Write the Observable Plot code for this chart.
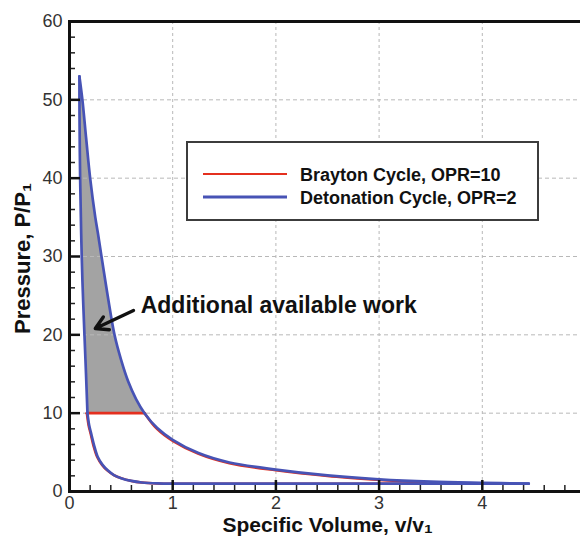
<!DOCTYPE html>
<html><head><meta charset="utf-8">
<script src="https://cdn.jsdelivr.net/npm/d3@7"></script>
<script src="https://cdn.jsdelivr.net/npm/@observablehq/plot@0.6"></script>
<style>
html,body{margin:0;padding:0;background:#fff;overflow:hidden;}
#chart{position:relative;width:580px;height:536px;overflow:hidden;}
#chart svg{overflow:hidden;}
</style></head><body><div id="chart"></div>
<script>
// ---- ticks ----
const xTicks = [0, 1, 2, 3, 4, 5];
const yTicks = [0, 10, 20, 30, 40, 50, 60];
const xGrid = [1, 2, 3, 4];
const yGrid = [10, 20, 30, 40, 50];
const xMinor = [0.2, 0.4, 0.6, 0.8, 1.2, 1.4, 1.6, 1.8, 2.2, 2.4, 2.6, 2.8, 3.2, 3.4, 3.6, 3.8, 4.2, 4.4, 4.6, 4.8];
const yMinor = [2, 4, 6, 8, 12, 14, 16, 18, 22, 24, 26, 28, 32, 34, 36, 38, 42, 44, 46, 48, 52, 54, 56, 58];

// ---- series labels ----
const seriesNames = ["Brayton Cycle, OPR=10", "Detonation Cycle, OPR=2"];
const seriesColors = ["#e4301f", "#4753b5"];

// ---- Brayton cycle (red) ----
const braytonLowerV = [1.0, 0.85, 0.7, 0.6, 0.5, 0.43, 0.365, 0.315, 0.268, 0.233, 0.204, 0.184, 0.168];
const braytonLowerP = [1.0, 1.03, 1.15, 1.35, 1.7, 2.1, 2.7, 3.4, 4.4, 5.8, 7.4, 8.5, 10];
const braytonTopV = [0.168, 0.727];
const braytonTopP = [10, 10];
const braytonExpV = [0.727, 0.85, 1.0, 1.25, 1.55, 2.0, 2.5, 3.0, 3.45];
const braytonExpP = [10, 7.95, 6.45, 4.8, 3.6, 2.7, 1.98, 1.48, 1.12];
const braytonBaseV = [3.45, 1.0];
const braytonBaseP = [1.0, 1.0];

// ---- Detonation cycle (blue) ----
const detLowerV = [1.0, 0.85, 0.7, 0.6, 0.5, 0.43, 0.37, 0.32, 0.274, 0.24, 0.21, 0.19, 0.174];
const detLowerP = [1.0, 1.03, 1.15, 1.35, 1.7, 2.1, 2.7, 3.4, 4.4, 5.8, 7.4, 8.5, 10];
const detLeftV = [0.174, 0.16, 0.145, 0.125, 0.113, 0.103, 0.097, 0.096];
const detLeftP = [10, 15, 20, 27, 33, 40, 48, 53];
const detExpV = [0.096, 0.125, 0.162, 0.2, 0.25, 0.275, 0.31, 0.37, 0.436, 0.5, 0.57, 0.645, 0.727, 0.85, 1.0, 1.25, 1.55, 2.0, 2.5, 3.0, 3.5, 4.0, 4.45];
const detExpP = [53, 50, 45, 40, 35, 33, 30, 25, 20, 16.8, 14.0, 11.8, 10, 8.1, 6.6, 4.9, 3.7, 2.8, 2.05, 1.55, 1.25, 1.1, 1.0];
const detBaseV = [4.45, 1.0];
const detBaseP = [1.0, 1.0];

// ---- annotation ----
const noteText = ["Additional available work"];
const noteV = [0.69];
const noteP = [23.7];
const arrowFrom = [0.62, 23.1];
const arrowTo = [0.25, 20.8];

const pts = (V, P) => V.map((v, i) => ({v, P: P[i]}));

// shaded region: detonation left line up, then expansion down to P=10
const detExpAbove = pts(detExpV, detExpP).filter(d => d.P >= 10);
const shade = [...pts(detLeftV, detLeftP), ...detExpAbove.slice(1)];

const W = 580, H = 536, ML = 69, MR = -5, MT = 21, MB = 45;
const frameW = W - ML - MR, frameH = H - MT - MB;
const red = seriesColors[0], blue = seriesColors[1];
const FONT = "'Liberation Sans', Arial, Helvetica, sans-serif";

const lineOpts = (color, w, curve) => ({x: "v", y: "P", stroke: color, strokeWidth: w, curve, strokeLinecap: "round", strokeLinejoin: "round"});

const plot = Plot.plot({
  width: W, height: H,
  marginLeft: ML, marginRight: MR, marginTop: MT, marginBottom: MB,
  style: {fontFamily: FONT, fontSize: "18px", background: "#fff", overflow: "hidden"},
  x: {domain: [0, 5]},
  y: {domain: [0, 60]},
  marks: [
    Plot.line(shade, {x: "v", y: "P", fill: "#a3a3a3", stroke: "none", curve: "catmull-rom"}),
    Plot.ruleX(xGrid, {x: d => d, stroke: "#b8b8b8", strokeWidth: 1, strokeDasharray: "3,3"}),
    Plot.ruleY(yGrid, {y: d => d, stroke: "#b8b8b8", strokeWidth: 1, strokeDasharray: "4,3"}),
    // Brayton (red)
    Plot.line(pts(braytonBaseV, braytonBaseP), lineOpts(red, 2.5, "linear")),
    Plot.line(pts(braytonLowerV, braytonLowerP), lineOpts(red, 2.5, "catmull-rom")),
    Plot.line(pts(braytonTopV, braytonTopP), lineOpts(red, 2.8, "linear")),
    Plot.line(pts(braytonExpV, braytonExpP), lineOpts(red, 2.5, "catmull-rom")),
    // Detonation (blue)
    Plot.line(pts(detBaseV, detBaseP), lineOpts(blue, 2.7, "linear")),
    Plot.line(pts(detLowerV, detLowerP), lineOpts(blue, 2.7, "catmull-rom")),
    Plot.line(pts(detLeftV, detLeftP), lineOpts(blue, 2.7, "catmull-rom")),
    Plot.line(pts(detExpV, detExpP), lineOpts(blue, 2.7, "catmull-rom")),
    // annotation
    Plot.arrow([{x1: arrowFrom[0], y1: arrowFrom[1], x2: arrowTo[0], y2: arrowTo[1]}],
      {x1: "x1", y1: "y1", x2: "x2", y2: "y2", stroke: "#111", strokeWidth: 3.4, headLength: 12, headAngle: 60}),
    Plot.text(noteText.map((t, i) => ({t, v: noteV[i], P: noteP[i]})),
      {x: "v", y: "P", text: "t", textAnchor: "start", fontSize: 23, fontWeight: "bold", fill: "#111"}),
    // minor and major ticks (inward)
    Plot.tickX(xMinor, {x: d => d, insetTop: frameH - 6, stroke: "#222", strokeWidth: 1.5}),
    Plot.tickY(yMinor, {y: d => d, insetRight: frameW - 6, stroke: "#222", strokeWidth: 1.5}),
    Plot.tickX(xTicks, {x: d => d, insetTop: frameH - 11, stroke: "#111", strokeWidth: 2.5}),
    Plot.tickY(yTicks, {y: d => d, insetRight: frameW - 11, stroke: "#111", strokeWidth: 2.5}),
    Plot.axisX(xTicks, {tickSize: 0, tickPadding: 5, fontSize: 18, fill: "#333", label: null}),
    Plot.axisY(yTicks, {tickSize: 0, tickPadding: 7, fontSize: 18, fill: "#333", label: null}),
    Plot.frame({stroke: "#111", strokeWidth: 3}),
    // axis titles
    Plot.text(["Pressure, P/P\u2081"], {text: d => d, frameAnchor: "left", textAnchor: "middle", rotate: -90, dx: -47, dy: 2, fontSize: 22, fontWeight: "bold", fill: "#111"}),
    Plot.text(["Specific Volume, v/v\u2081"], {text: d => d, frameAnchor: "bottom", textAnchor: "middle", lineAnchor: "bottom", dy: 40, fontSize: 21, fontWeight: "bold", fill: "#111"})
  ]
});
document.getElementById("chart").appendChild(plot);

// legend box drawn inside the plot area
const svg = d3.select(plot);
const lg = svg.append("g").attr("class", "legend").attr("text-anchor", "start");
lg.append("rect").attr("x", 187).attr("y", 142).attr("width", 351).attr("height", 78)
  .attr("fill", "#fff").attr("stroke", "#3c3c3c").attr("stroke-width", 2);
seriesNames.forEach((name, i) => {
  const cy = 174 + i * 23;
  lg.append("line").attr("x1", 203).attr("x2", 287).attr("y1", cy).attr("y2", cy)
    .attr("stroke", seriesColors[i]).attr("stroke-width", i === 0 ? 2.2 : 3);
  lg.append("text").attr("x", 300).attr("y", cy + 6.5).text(name)
    .attr("text-anchor", "start")
    .attr("font-size", 18).attr("font-weight", "bold").attr("fill", "#111")
    .attr("font-family", FONT);
});
</script></body></html>
